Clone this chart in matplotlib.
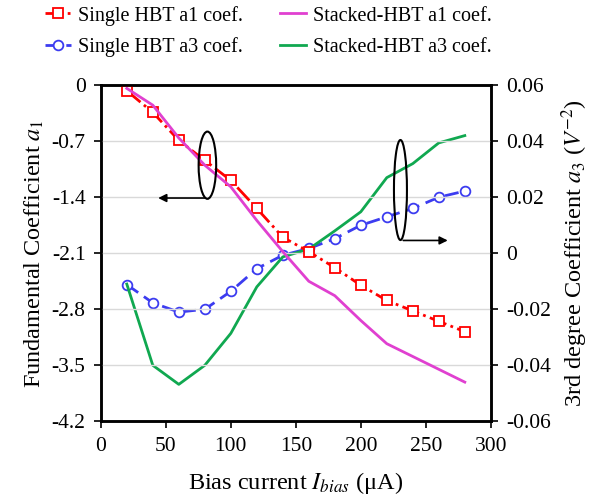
import matplotlib
matplotlib.use("Agg")
import matplotlib.pyplot as plt
from matplotlib.patches import Ellipse

plt.rcParams['font.family'] = ['Liberation Serif', 'DejaVu Serif']
plt.rcParams['mathtext.fontset'] = 'stix'

# bias current (uA)
ibias = [20, 40, 60, 80, 100, 120, 140, 160, 180, 200, 220, 240, 260, 280]

single_a1 = [-0.07, -0.34, -0.69, -0.94, -1.19, -1.54, -1.90, -2.08, -2.28,
             -2.50, -2.69, -2.82, -2.95, -3.08]
stacked_a1 = [-0.04, -0.25, -0.66, -1.00, -1.27, -1.69, -2.08, -2.45, -2.63,
              -2.94, -3.23, -3.39, -3.55, -3.71]
single_a3 = [-0.0112, -0.0177, -0.0210, -0.0200, -0.0136, -0.0055, -0.0007,
             0.0017, 0.0052, 0.0100, 0.0130, 0.0160, 0.0200, 0.0222]
stacked_a3 = [-0.0110, -0.0400, -0.0468, -0.0400, -0.0286, -0.0120, -0.0013,
              0.0015, 0.0080, 0.0148, 0.0270, 0.0320, 0.0394, 0.0420]

left_ticks = [0, -0.7, -1.4, -2.1, -2.8, -3.5, -4.2]
right_ticks = [0.06, 0.04, 0.02, 0, -0.02, -0.04, -0.06]
x_ticks = [0, 50, 100, 150, 200, 250, 300]

fig = plt.figure(figsize=(6.0, 5.01), dpi=100)
ax = fig.add_axes([0.168, 0.159, 0.650, 0.671])
ax2 = ax.twinx()

ax.set_zorder(2)
ax.patch.set_visible(False)

l1, = ax.plot(ibias, single_a1, color='red', linestyle='-.', linewidth=2,
              marker='s', markersize=7, markerfacecolor='white',
              markeredgecolor='red', markeredgewidth=1.3,
              label='Single HBT a1 coef.')
l2, = ax.plot(ibias, stacked_a1, color='#e040d0', linewidth=2,
              label='Stacked-HBT a1 coef.')
l3, = ax2.plot(ibias, single_a3, color='#3c3cf0', linestyle=(0, (5, 2.5)),
               linewidth=2, marker='o', markersize=7,
               markerfacecolor='white', markeredgecolor='#3c3cf0',
               markeredgewidth=1.3, label='Single HBT a3 coef.')
l4, = ax2.plot(ibias, stacked_a3, color='#10a850', linewidth=2,
               label='Stacked-HBT a3 coef.')

ax.set_xlim(0, 300)
ax.set_ylim(-4.2, 0)
ax2.set_ylim(-0.06, 0.06)
ax.set_xticks(x_ticks)
ax.set_yticks(left_ticks)
ax.set_yticklabels(['0', '-0.7', '-1.4', '-2.1', '-2.8', '-3.5', '-4.2'])
ax2.set_yticks(right_ticks)
ax2.set_yticklabels(['0.06', '0.04', '0.02', '0', '-0.02', '-0.04', '-0.06'])

ax2.grid(False)
for v in left_ticks[1:-1]:
    ax.axhline(v, color='#d9d9d9', linewidth=1, zorder=0)

for a in (ax, ax2):
    a.tick_params(direction='out', length=5, width=1.2, labelsize=15.5,
                  pad=6)
    for s in a.spines.values():
        s.set_linewidth(1.8)

ax.set_xlabel('Bias current $I_{bias}$ (\u03bcA)', fontsize=17.5, labelpad=10)
ax.set_ylabel('Fundamental Coefficient $a_1$', fontsize=17.5, labelpad=4)
ax2.set_ylabel('3rd degree Coefficient $a_3$ ($V^{-2}$)', fontsize=17.5,
               labelpad=6)

# grouping ellipses with arrows
ax.add_patch(Ellipse((82, -1.0), 13.5, 0.84, fill=False, edgecolor='black',
                     linewidth=1.5, zorder=5))
ax.annotate('', xy=(42, -1.41), xytext=(82, -1.41),
            arrowprops=dict(arrowstyle='-|>', color='black', lw=1.2,
                            mutation_scale=12))
ax.add_patch(Ellipse((230.5, -1.31), 10, 1.25, fill=False, edgecolor='black',
                     linewidth=1.5, zorder=5))
ax.annotate('', xy=(269, -1.94), xytext=(230.5, -1.94),
            arrowprops=dict(arrowstyle='-|>', color='black', lw=1.2,
                            mutation_scale=12))

fig.legend(handles=[l1, l3, l2, l4], ncol=2, loc='upper left',
           bbox_to_anchor=(0.045, 1.025), frameon=False, fontsize=14.5,
           handlelength=1.3, handletextpad=0.35, columnspacing=1.8,
           labelspacing=0.6)

fig.savefig('out.png', dpi=100)
